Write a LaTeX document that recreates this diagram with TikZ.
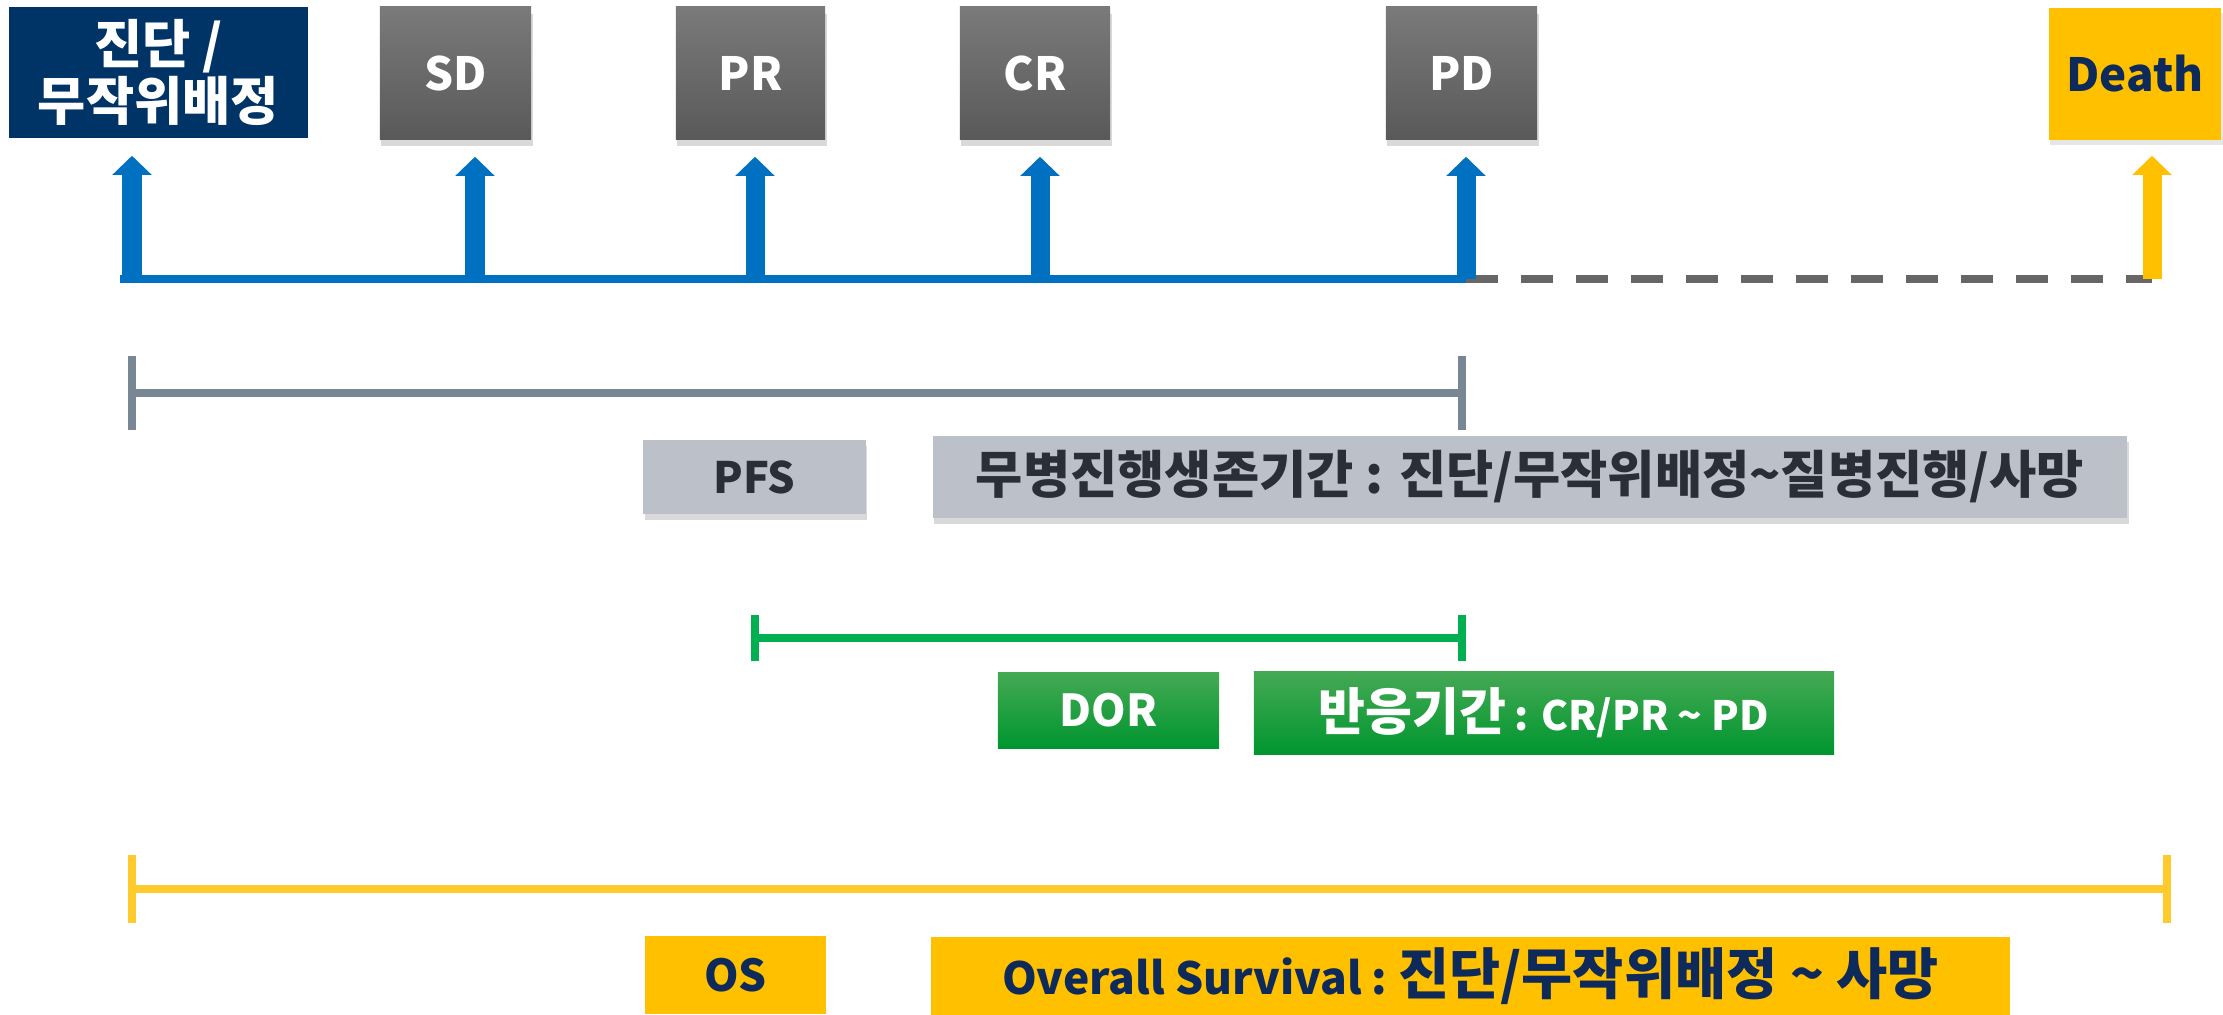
\documentclass[tikz,border=0pt]{standalone}
\usepackage{fontspec}
\setmainfont{Noto Sans CJK KR}
\usepackage{xcolor}
\usepackage{tikz}
\usetikzlibrary{arrows.meta, positioning, shadows}
\definecolor{knavy}{HTML}{003366}
\definecolor{kink}{HTML}{0E2A5A}
\definecolor{kblue}{HTML}{0070C0}
\definecolor{kgold}{HTML}{FFC000}
\definecolor{kyellow}{HTML}{FFCA2C}
\definecolor{kslate}{HTML}{798794}
\definecolor{kpale}{HTML}{BCC1C9}
\definecolor{kdark}{HTML}{2A2F37}
\definecolor{kgreen}{HTML}{00B050}
\definecolor{kgreentop}{HTML}{45A954}
\definecolor{kgreenbot}{HTML}{00962F}
\definecolor{kgreytop}{HTML}{7A7A7A}
\definecolor{kgreybot}{HTML}{595959}
\definecolor{kdash}{HTML}{666666}

\begin{document}
\begin{tikzpicture}[x=0.01cm, y=-0.01cm,
  lbl/.style={inner sep=0pt, align=center},
  stage/.style={lbl, minimum width=1.51cm, minimum height=1.32cm, text=white,
    top color=kgreytop, bottom color=kgreybot,
    drop shadow={opacity=0.3, shadow xshift=0.015cm, shadow yshift=-0.07cm}},
  pfsbox/.style={lbl, fill=kpale, text=kdark,
    drop shadow={opacity=0.3, shadow xshift=0.015cm, shadow yshift=-0.06cm}},
  dorbox/.style={lbl, text=white, top color=kgreentop, bottom color=kgreenbot},
  osbox/.style={lbl, fill=kgold, text=kink},
  uparrow/.style={kblue, line width=0.19cm, shorten >=0.17cm,
    -{Triangle[width=0.38cm, length=0.19cm]}},
  bracket/.style={line width=0.08cm}]
\useasboundingbox (0,0) rectangle (2223,1014);

% events along the time axis
\node[lbl, fill=knavy, text=white, minimum width=2.99cm, minimum height=1.31cm,
  font=\fontsize{14.9}{16}\selectfont\bfseries] (diag) at (158.5,72.5) {진단 /\\무작위배정};
\node[stage, font=\fontsize{13}{15}\selectfont\bfseries] (sd) at (455.5,73) {SD};
\node[stage, minimum width=1.49cm, font=\fontsize{13}{15}\selectfont\bfseries] (pr) at (750.5,73) {PR};
\node[stage, minimum width=1.50cm, font=\fontsize{13}{15}\selectfont\bfseries] (cr) at (1035,73) {CR};
\node[stage, font=\fontsize{13}{15}\selectfont\bfseries] (pd) at (1461.5,73) {PD};
\node[osbox, minimum width=1.72cm, minimum height=1.32cm,
  drop shadow={opacity=0.2, shadow xshift=0.015cm, shadow yshift=-0.05cm},
  font=\fontsize{13}{15}\selectfont\bfseries] (death) at (2135,74) {Death};

\coordinate (t0) at (120,279);
\coordinate (tDiag) at (132,279);
\coordinate (tSD) at (475,279);
\coordinate (tPR) at (755,279);
\coordinate (tCR) at (1040,279);
\coordinate (tPD) at (1466,279);
\coordinate (tDeath) at (2152,279);

\draw[kblue, line width=0.08cm] (t0) -- (tPD);
\draw[kdash, line width=0.08cm, dash pattern=on 0.32cm off 0.23cm] (tPD) -- (tDeath);
\foreach \t/\b in {tDiag/diag, tSD/sd, tPR/pr, tCR/cr, tPD/pd}
  \draw[uparrow] (\t) -- (\t |- \b.south);
\draw[uparrow, kgold, shorten >=0.15cm] (tDeath) -- (tDeath |- death.south);

% PFS
\coordinate (pfsL) at (132,393);
\coordinate (pfsR) at (1462,393);
\draw[bracket, kslate] (pfsL) -- (pfsR)
  (pfsL) ++(0,-37) -- ++(0,74) (pfsR) ++(0,-37) -- ++(0,74);
\node[pfsbox, minimum width=2.22cm, minimum height=0.74cm,
  font=\fontsize{12.3}{15}\selectfont\bfseries] (pfs) at (754.5,477) {PFS};
\node[pfsbox, minimum width=11.94cm, minimum height=0.82cm,
  font=\fontsize{14.6}{16}\selectfont\bfseries] (pfsdef) at (1530,477)
  {무병진행생존기간 : 진단/무작위배정\textasciitilde 질병진행/사망};

% DOR
\coordinate (dorL) at (755,638);
\coordinate (dorR) at (1462,638);
\draw[bracket, kgreen] (dorL) -- (dorR)
  (dorL) ++(0,-23) -- ++(0,46) (dorR) ++(0,-23) -- ++(0,46);
\node[dorbox, minimum width=2.21cm, minimum height=0.75cm,
  font=\fontsize{12.5}{15}\selectfont\bfseries] (dor) at (1108.5,710.5) {DOR};
\node[dorbox, minimum width=5.80cm, minimum height=0.82cm, font=\bfseries] (dordef) at (1544,713)
  {{\fontsize{14.5}{16}\selectfont 반응기간} {\fontsize{11.5}{14}\selectfont : CR/PR \textasciitilde{} PD}};

% OS
\coordinate (osL) at (132,889);
\coordinate (osR) at (2167,889);
\draw[bracket, kyellow] (osL) -- (osR)
  (osL) ++(0,-34) -- ++(0,68) (osR) ++(0,-34) -- ++(0,68);
\node[osbox, minimum width=1.81cm, minimum height=0.78cm,
  font=\fontsize{12.5}{15}\selectfont\bfseries] (os) at (735.5,975) {OS};
\node[osbox, minimum width=10.79cm, minimum height=0.79cm, font=\bfseries] (osdef) at (1470.5,976.5)
  {{\fontsize{12.6}{15}\selectfont Overall Survival :} {\fontsize{15.8}{17}\selectfont 진단/무작위배정 \textasciitilde{} 사망}};
\end{tikzpicture}
\end{document}
